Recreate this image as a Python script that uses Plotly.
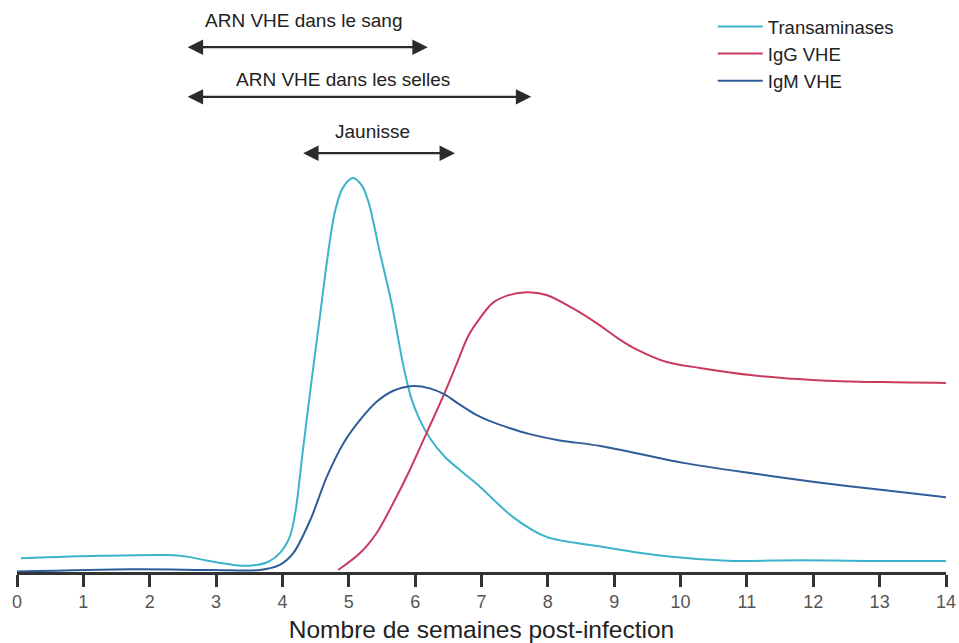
import plotly.graph_objects as go

# ---- data (weeks post-infection, arbitrary units) ----
trans_x = [0.06, 1.25, 2.26, 2.56, 2.86, 3.26, 3.51, 3.76, 3.96, 4.11, 4.20, 4.30, 4.45, 4.57, 4.67,
           4.79, 4.91, 5.06, 5.20, 5.30, 5.47, 5.65, 5.82, 5.94, 6.07, 6.22, 6.45, 6.71, 6.98,
           7.47, 7.98, 8.75, 9.29, 10.04, 10.79, 11.8, 12.8, 14.0]
trans_y = [3.5, 4.1, 4.3, 3.9, 2.9, 1.8, 1.6, 2.4, 4.8, 8.9, 15.7, 29.7, 50.0, 65.5, 78.7,
           91.4, 97.5, 100.0, 98.0, 93.7, 81.0, 67.8, 52.5, 44.2, 38.6, 34.0, 29.2, 25.4, 21.6,
           14.0, 8.9, 6.6, 5.1, 3.6, 2.8, 3.0, 2.8, 2.8]

igm_x = [0.0, 1.75, 2.95, 3.66, 3.96, 4.16, 4.42, 4.67, 4.92, 5.17, 5.42, 5.67, 5.97, 6.22, 6.45,
         6.68, 6.90, 7.13, 7.43, 7.73, 8.18, 8.79, 10.04, 11.05, 12.05, 13.05, 14.0]
igm_y = [0.1, 0.7, 0.5, 0.5, 1.8, 4.7, 13.2, 24.2, 32.7, 38.6, 43.2, 46.0, 47.2, 46.6, 45.0,
         42.4, 40.1, 38.3, 36.5, 35.0, 33.4, 32.0, 27.7, 25.1, 22.8, 20.8, 19.0]

igg_x = [4.84, 5.17, 5.42, 5.67, 5.92, 6.17, 6.42, 6.63, 6.80, 6.98, 7.17, 7.40, 7.69, 7.98, 8.38,
         8.74, 9.09, 9.29, 9.79, 10.29, 11.05, 12.05, 13.05, 14.0]
igg_y = [0.5, 4.8, 9.9, 17.5, 25.9, 35.2, 44.5, 53.0, 59.9, 64.5, 68.3, 70.2, 71.0, 70.3, 66.9,
         63.1, 58.9, 56.9, 53.3, 51.8, 50.0, 48.7, 48.2, 48.0]

series_names = ["Transaminases", "IgG VHE", "IgM VHE"]
series_colors = ["#3cb3cb", "#c83a5e", "#2f5d98"]

week_ticks = list(range(0, 15))

# periods (start week, end week, label)
period_labels = ["ARN VHE dans le sang", "ARN VHE dans les selles", "Jaunisse"]
period_start = [2.55, 2.55, 4.29]
period_end = [6.19, 7.75, 6.60]
period_level = [133.2, 120.6, 106.3]
label_level = [140.1, 125.1, 111.9]
label_center = [4.33, 4.91, 5.35]

FONT = "Liberation Sans, Arial"

fig = go.Figure()
for xs, ys, nm, col in [(trans_x, trans_y, series_names[0], series_colors[0]),
                        (igg_x, igg_y, series_names[1], series_colors[1]),
                        (igm_x, igm_y, series_names[2], series_colors[2])]:
    fig.add_trace(go.Scatter(x=xs, y=ys, mode="lines", name=nm,
                             line=dict(color=col, width=2, shape="spline", smoothing=0.9)))

for lab, s, e, lv, tl, tc in zip(period_labels, period_start, period_end, period_level, label_level, label_center):
    fig.add_annotation(x=e, y=lv, ax=s, ay=lv, xref="x", yref="y", axref="x", ayref="y",
                       text="", showarrow=True, arrowhead=2, arrowside="end+start",
                       arrowsize=1.4, arrowwidth=2.2, arrowcolor="#2b2b2b", standoff=0, startstandoff=0)
    fig.add_annotation(x=tc, y=tl, xref="x", yref="y", text=lab, showarrow=False,
                       font=dict(family=FONT, size=19, color="#222222"))

fig.update_layout(
    width=959, height=643,
    margin=dict(l=17, r=13, t=0, b=71),
    paper_bgcolor="white", plot_bgcolor="white",
    showlegend=True,
    legend=dict(x=0.749, y=0.986, xanchor="left", yanchor="top",
                font=dict(family=FONT, size=18.5, color="#222222"),
                bgcolor="rgba(0,0,0,0)", itemwidth=45, tracegroupgap=0),
    xaxis=dict(range=[0, 14], tickvals=week_ticks, ticktext=[str(t) for t in week_ticks],
               showline=True, linecolor="#333333", linewidth=2.5,
               ticks="outside", ticklen=12, tickwidth=2.5, tickcolor="#333333",
               tickfont=dict(family=FONT, size=18, color="#555555"),
               showgrid=False, zeroline=False, automargin=False,
               title=dict(text="Nombre de semaines post-infection", standoff=10,
                          font=dict(family=FONT, size=24.5, color="#222222"))),
    yaxis=dict(range=[0, 145.18], visible=False, showgrid=False, zeroline=False),
)

fig.write_html("out.html", config={"displayModeBar": False},
               post_script="document.body.style.margin='0';document.body.style.overflow='hidden';")
